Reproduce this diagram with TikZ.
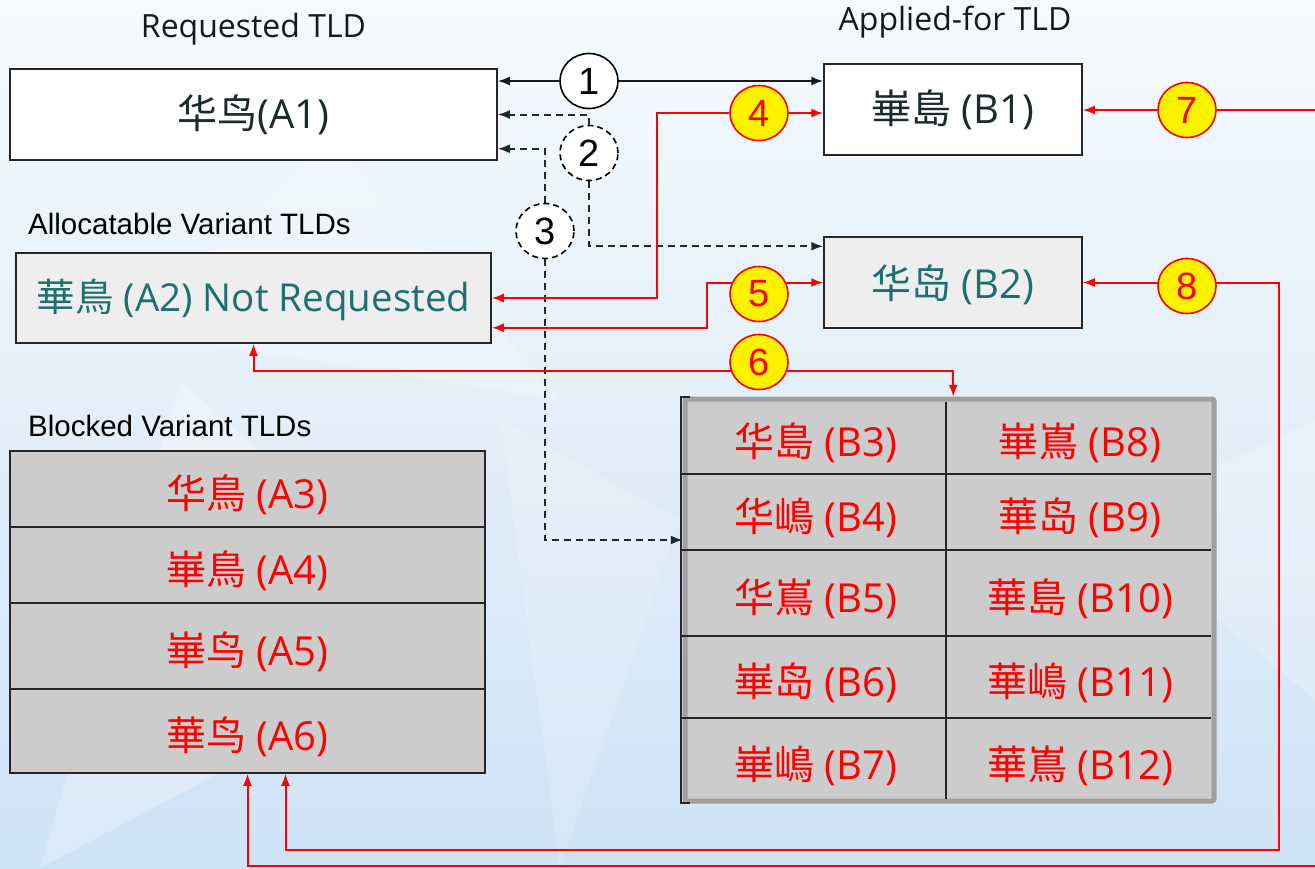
\documentclass[tikz,border=0pt]{standalone}
\usepackage{fontspec}
\setmainfont{Open Sans}
\newfontfamily\cjk{Noto Sans CJK SC}
\newfontfamily\arialf{Liberation Sans}
\usetikzlibrary{arrows.meta,shapes.geometric,calc}
\pgfdeclarelayer{bg}
\pgfdeclarelayer{wires}
\pgfsetlayers{bg,wires,main}
\newcommand\lowered[2][6pt]{\raisebox{-#1}[\height][\depth]{#2}}
\definecolor{tealtext}{HTML}{1F6F6F}
\definecolor{darktext}{HTML}{1B2A2A}
\definecolor{cellgray}{HTML}{CCCCCC}
\definecolor{lightbox}{HTML}{EEEEEE}
\definecolor{framegray}{HTML}{A0A0A0}
\definecolor{bgtop}{HTML}{F6FAFD}
\definecolor{bgmid}{HTML}{DAEBF8}
\definecolor{bgbot}{HTML}{CEE3F6}
\begin{document}
\begin{tikzpicture}[x=1pt,y=-1pt,
  tldbox/.style={draw=black!85,line width=1.5pt,inner sep=0pt,font=\fontsize{40}{48}\selectfont},
  blkbox/.style={tldbox,fill=cellgray,minimum width=475pt,text=red},
  cellbox/.style={inner sep=0pt,text=red,font=\fontsize{40}{48}\selectfont},
  numc/.style={ellipse,inner sep=0pt,minimum width=58pt,minimum height=55pt,line width=1.6pt,font=\arialf\fontsize{38}{38}\selectfont},
  whitenum/.style={numc,draw=black,fill=white,text=black},
  dashnum/.style={numc,draw=black,dash pattern=on 6pt off 4pt,fill=white,text=black},
  rednum/.style={numc,draw=red,fill=yellow,text=red},
  blkwire/.style={draw=black!90,line width=2pt,-{Latex[length=12pt,width=9pt]}},
  dashwire/.style={blkwire,draw=darktext,dash pattern=on 7pt off 5pt},
  redwire/.style={draw=red,line width=2pt,-{Latex[length=12pt,width=9pt]}},
  title/.style={font=\fontsize{32}{38}\selectfont,text=black!90,anchor=base,inner sep=0pt},
  section/.style={font=\arialf\fontsize{29.5}{34}\selectfont,text=black,anchor=base west,inner sep=0pt}
]
\useasboundingbox (0,0) rectangle (1315,868);
\begin{pgfonlayer}{bg}
  \fill[top color=bgtop,middle color=bgmid,bottom color=bgbot] (0,0) rectangle (1315,868);
  \fill[white,opacity=0.25] (180,380) -- (470,640) -- (40,868) -- cycle;
  \fill[white,opacity=0.2] (330,140) -- (560,400) -- (120,330) -- cycle;
  \fill[white,opacity=0.2] (1100,520) -- (1315,420) -- (1315,700) -- cycle;
  \fill[white,opacity=0.15] (500,420) -- (680,520) -- (560,868) -- cycle;
\end{pgfonlayer}

% titles
\node[title] (t1) at (253.5,37) {Requested TLD};
\node[title] (t2) at (955,30) {Applied-for TLD};
\node[section] (t3) at (28,234) {Allocatable Variant TLDs};
\node[section] (t4) at (28,436) {Blocked Variant TLDs};

% main boxes
\node[tldbox,fill=white,minimum width=487pt,minimum height=91pt,text=darktext] (A1) at (253.5,114.5) {{\cjk 华鸟}(A1)};
\node[tldbox,fill=lightbox,minimum width=475pt,minimum height=90pt,text=tealtext,font=\fontsize{38.5}{46}\selectfont] (A2) at (253.5,298) {\lowered[2pt]{{\cjk 華鳥} (A2) Not Requested}};
\node[tldbox,fill=white,minimum width=258pt,minimum height=91pt,text=darktext] (B1) at (953,109.5) {{\cjk 崋島} (B1)};
\node[tldbox,fill=lightbox,minimum width=258pt,minimum height=91pt,text=tealtext] (B2) at (953,282.5) {\lowered[2pt]{{\cjk 华岛} (B2)}};

% blocked list
\node[blkbox,minimum height=76pt] (A3) at (247.5,489) {\lowered{{\cjk 华鳥} (A3)}};
\node[blkbox,minimum height=76pt] (A4) at (247.5,565) {\lowered{{\cjk 崋鳥} (A4)}};
\node[blkbox,minimum height=86pt] (A5) at (247.5,646) {\lowered{{\cjk 崋鸟} (A5)}};
\node[blkbox,minimum height=84pt] (A6) at (247.5,731) {\lowered{{\cjk 華鸟} (A6)}};

% grid
\node[draw=framegray,line width=5pt,fill=cellgray,minimum width=529pt,minimum height=402pt,inner sep=0pt,rounded corners=2pt] (G) at (949.5,600) {};
\node[cellbox,minimum width=261pt,minimum height=75pt] (B3) at (815.5,436.5) {\lowered{{\cjk 华島} (B3)}};
\node[cellbox,minimum width=261pt,minimum height=76pt] (B4) at (815.5,512) {\lowered{{\cjk 华嶋} (B4)}};
\node[cellbox,minimum width=261pt,minimum height=86pt] (B5) at (815.5,593) {\lowered{{\cjk 华嶌} (B5)}};
\node[cellbox,minimum width=261pt,minimum height=82pt] (B6) at (815.5,677) {\lowered{{\cjk 崋岛} (B6)}};
\node[cellbox,minimum width=261pt,minimum height=83pt] (B7) at (815.5,759.5) {\lowered{{\cjk 崋嶋} (B7)}};
\node[cellbox,minimum width=268pt,minimum height=75pt] (B8) at (1080,436.5) {\lowered{{\cjk 崋嶌} (B8)}};
\node[cellbox,minimum width=268pt,minimum height=76pt] (B9) at (1080,512) {\lowered{{\cjk 華岛} (B9)}};
\node[cellbox,minimum width=268pt,minimum height=86pt] (B10) at (1080,593) {\lowered{{\cjk 華島} (B10)}};
\node[cellbox,minimum width=268pt,minimum height=82pt] (B11) at (1080,677) {\lowered{{\cjk 華嶋} (B11)}};
\node[cellbox,minimum width=268pt,minimum height=83pt] (B12) at (1080,759.5) {\lowered{{\cjk 華嶌} (B12)}};
\begin{scope}[draw=black!85,line width=1.5pt]
  \draw ([xshift=-4pt]B3.south west) -- ([xshift=-3pt]B8.south east);
  \draw ([xshift=-4pt]B4.south west) -- ([xshift=-3pt]B9.south east);
  \draw ([xshift=-4pt]B5.south west) -- ([xshift=-3pt]B10.south east);
  \draw ([xshift=-4pt]B6.south west) -- ([xshift=-3pt]B11.south east);
  \draw ([yshift=-3pt]B3.north east) -- ([yshift=2pt]B7.south east);
  \draw ([shift={(5,-2)}]B3.north west) -- ([shift={(-4,-2)}]B3.north west) -- ([shift={(-4,2)}]B7.south west) -- ([shift={(5,2)}]B7.south west);
\end{scope}

% numbered circles
\node[whitenum] (c1) at (589,81) {1};
\node[dashnum] (c2) at (589,153) {2};
\node[dashnum] (c3) at (545,231) {3};
\node[rednum] (c4) at (759,113) {4};
\node[rednum] (c5) at (759,294) {5};
\node[rednum] (c6) at (759,362) {6};
\node[rednum] (c7) at (1187,110) {7};
\node[rednum] (c8) at (1187,286) {8};

% free ends and bends
\coordinate (k4) at (657,0);
\coordinate (k5) at (707,0);
\coordinate (k8) at (1279,850);
\coordinate (e7) at (1315,110);
\coordinate (e7b) at (1315,866);

\begin{pgfonlayer}{wires}
  \draw[blkwire] (c1) -- (c1 -| A1.east);
  \draw[blkwire] (c1) -- (c1 -| B1.west);
  \draw[dashwire] (c2) |- (A1.east);
  \draw[dashwire] (c2) |- ($(B2.north west)+(0,10)$);
  \draw[dashwire] (c3) |- ($(A1.south east)+(0,-12)$);
  \draw[dashwire] (c3) |- ($(B4.west)+(-2,28)$);
  \draw[redwire] (c4) -- (c4 -| B1.west);
  \draw[redwire] (c4) -- (c4 -| k4) |- (A2.east);
  \draw[redwire] (c5 |- B2.west) -- (B2.west);
  \draw[redwire] (c5 |- B2.west) -- (k5 |- B2.west) |- ($(A2.south east)+(0,-16)$);
  \draw[redwire] ($(c6)+(0,9)$) -| (A2.south);
  \draw[redwire] ($(c6)+(0,9)$) -| ($(B3.north east)+(7,-2)$);
  \draw[redwire] (e7) -- (c7) -- (c7 -| B1.east);
  \draw[redwire] (e7b) -| (A6.south);
  \draw[redwire] (c8 |- B2.east) -- (B2.east);
  \draw[redwire] (c8 |- B2.east) -| (k8) -| ($(A6.south)+(38,0)$);
\end{pgfonlayer}
\end{tikzpicture}
\end{document}
